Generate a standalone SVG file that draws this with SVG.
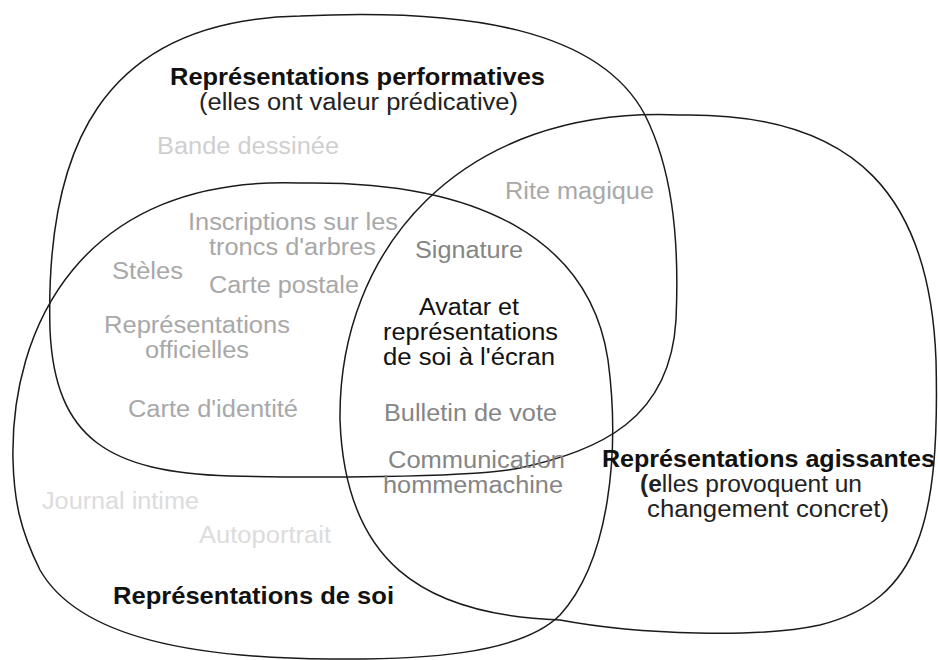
<svg xmlns="http://www.w3.org/2000/svg" width="938" height="660" viewBox="0 0 938 660">
<style>
  .blob { fill: none; stroke: #1a1a1a; stroke-width: 1.5; }
  text { font-family: "Liberation Sans", Arial, Helvetica, sans-serif; font-size: 23px; }
  .title { font-weight: bold; font-size: 24px; fill: #111; }
  .sub { fill: #222; }
  .dark { fill: #111; }
  .mid { fill: #858585; }
  .grey { fill: #a8a8a8; }
  .light { fill: #cfcfcf; }
  .pale { fill: #dcdcdc; }
</style>
<rect width="938" height="660" fill="#ffffff"/>

<g id="sets">
  <path id="blob-performatives" class="blob" d="M 50,330 C 45,150 100,20 300,16 C 470,8 600,30 645,115 C 670,165 680,230 676,320 C 670,420 600,450 520,468 C 470,478 300,478 230,476 C 110,472 55,440 50,330 Z"/>
  <path id="blob-soi" class="blob" d="M 13,460 C 10,330 80,175 300,183 C 480,180 590,240 608,360 C 620,450 610,560 560,615 C 520,655 420,660 330,659 C 200,658 80,640 40,570 C 20,530 14,500 13,460 Z"/>
  <path id="blob-agissantes" class="blob" d="M 340,420 C 338,250 460,105 680,115 C 860,112 930,200 936,360 C 940,520 920,600 820,625 C 760,638 640,635 560,620 C 420,615 345,560 340,420 Z"/>
</g>

<g id="node-performatives">
  <text class="title" x="170" y="85" textLength="375" lengthAdjust="spacingAndGlyphs">Représentations performatives</text>
  <text class="sub" x="199" y="110" textLength="319" lengthAdjust="spacingAndGlyphs">(elles ont valeur prédicative)</text>
</g>

<g id="node-agissantes">
  <text class="title" x="602" y="467" textLength="333" lengthAdjust="spacingAndGlyphs">Représentations agissantes</text>
  <text class="sub" x="640" y="492" textLength="222" lengthAdjust="spacingAndGlyphs"><tspan font-weight="bold">(e</tspan>lles provoquent un</text>
  <text class="sub" x="647" y="517" textLength="242" lengthAdjust="spacingAndGlyphs">changement concret)</text>
</g>

<g id="node-soi">
  <text class="title" x="113" y="604" textLength="281" lengthAdjust="spacingAndGlyphs">Représentations de soi</text>
</g>

<g id="item-bande-dessinee">
  <text class="light" x="157" y="154" textLength="182" lengthAdjust="spacingAndGlyphs">Bande dessinée</text>
</g>
<g id="item-rite-magique">
  <text class="grey" x="505" y="199" textLength="149" lengthAdjust="spacingAndGlyphs">Rite magique</text>
</g>
<g id="item-inscriptions">
  <text class="grey" x="188" y="230" textLength="210" lengthAdjust="spacingAndGlyphs">Inscriptions sur les</text>
  <text class="grey" x="209" y="255" textLength="167" lengthAdjust="spacingAndGlyphs">troncs d'arbres</text>
</g>
<g id="item-steles">
  <text class="grey" x="112" y="279" textLength="71" lengthAdjust="spacingAndGlyphs">Stèles</text>
</g>
<g id="item-carte-postale">
  <text class="grey" x="209" y="293" textLength="150" lengthAdjust="spacingAndGlyphs">Carte postale</text>
</g>
<g id="item-representations-officielles">
  <text class="grey" x="104" y="333" textLength="186" lengthAdjust="spacingAndGlyphs">Représentations</text>
  <text class="grey" x="145" y="358" textLength="104" lengthAdjust="spacingAndGlyphs">officielles</text>
</g>
<g id="item-carte-identite">
  <text class="grey" x="128" y="417" textLength="170" lengthAdjust="spacingAndGlyphs">Carte d'identité</text>
</g>
<g id="item-signature">
  <text class="mid" x="415" y="258" textLength="108" lengthAdjust="spacingAndGlyphs">Signature</text>
</g>
<g id="item-avatar">
  <text class="dark" x="419" y="315" textLength="100" lengthAdjust="spacingAndGlyphs">Avatar et</text>
  <text class="dark" x="383" y="340" textLength="175" lengthAdjust="spacingAndGlyphs">représentations</text>
  <text class="dark" x="383" y="365" textLength="172" lengthAdjust="spacingAndGlyphs">de soi à l'écran</text>
</g>
<g id="item-bulletin">
  <text class="mid" x="384" y="421" textLength="173" lengthAdjust="spacingAndGlyphs">Bulletin de vote</text>
</g>
<g id="item-communication">
  <text class="mid" x="388" y="468" textLength="177" lengthAdjust="spacingAndGlyphs">Communication</text>
  <text class="mid" x="383" y="493" textLength="180" lengthAdjust="spacingAndGlyphs">hommemachine</text>
</g>
<g id="item-journal">
  <text class="pale" x="42" y="509" textLength="157" lengthAdjust="spacingAndGlyphs">Journal intime</text>
</g>
<g id="item-autoportrait">
  <text class="pale" x="199" y="543" textLength="132" lengthAdjust="spacingAndGlyphs">Autoportrait</text>
</g>
</svg>
